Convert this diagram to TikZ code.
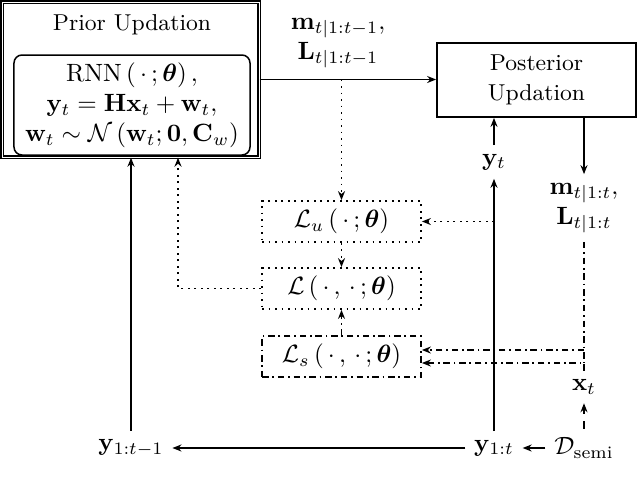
\documentclass[tikz,border=0pt]{standalone}
\usepackage{amsmath}
\usetikzlibrary{arrows.meta}

\tikzset{
	conn/.style={-{Stealth[length=3.6pt,width=2.8pt]}, line width=0.7pt},
	dots/.style={line width=0.7pt, dash pattern=on 0.7pt off 1.9pt},
	dashdots/.style={line width=0.7pt, dash pattern=on 2.6pt off 1.5pt on 0.7pt off 1.5pt},
	lossbox/.style={draw, minimum width=63.6pt, minimum height=16.4pt, inner sep=0pt},
	blocktext/.style={font=\fontsize{9.2}{12}\selectfont, align=center},
}

\begin{document}
\begin{tikzpicture}[x=0.4pt, y=-0.4pt]
		\useasboundingbox (0,0) rectangle (640,487);
		% the two update blocks
		\node[draw, double, double distance=0.35pt, line width=0.55pt, minimum width=102.8pt, minimum height=62pt] (prior) at (130.5,79.5) {};
		\node[blocktext] (priortitle) at (132,25) {Prior Updation};
		\node[draw, rounded corners=3.2pt, line width=0.6pt, minimum width=94.4pt, minimum height=40pt, align=center, inner sep=1pt] (rnn) at (132,105)
			{$\mathrm{RNN}\left(\,\cdot\,;\boldsymbol{\theta}\right),$\\ $\mathbf{y}_t=\mathbf{H}\mathbf{x}_t+\mathbf{w}_t,$\\ $\mathbf{w}_t\sim\mathcal{N}\left(\mathbf{w}_t;\mathbf{0},\mathbf{C}_w\right)$};
		\node[draw, line width=0.7pt, minimum width=79.6pt, minimum height=29.6pt, blocktext] (post) at (536.5,80) {Posterior\\Updation};

		% losses
		\node[lossbox, dots] (Lu) at (341.5,221.5) {$\mathcal{L}_u\left(\,\cdot\,;\boldsymbol{\theta}\right)$};
		\node[lossbox, dots] (L) at (341.5,288.5) {$\mathcal{L}\left(\,\cdot\,,\,\cdot\,;\boldsymbol{\theta}\right)$};
		\node[lossbox, dashdots] (Ls) at (341.5,356.5) {$\mathcal{L}_s\left(\,\cdot\,,\,\cdot\,;\boldsymbol{\theta}\right)$};

		% signals
		\node[align=center] (mprior) at (338,43) {$\mathbf{m}_{t|1:t-1},$\\ $\mathbf{L}_{t|1:t-1}$};
		\node (yt) at (494,162) {$\mathbf{y}_t$};
		\node[align=center] (mpost) at (584,208) {$\mathbf{m}_{t|1:t},$\\ $\mathbf{L}_{t|1:t}$};
		\node (xt) at (584,387) {$\mathbf{x}_t$};
		\node (y1t) at (494,448) {$\mathbf{y}_{1:t}$};
		\node (y1tm1) at (131,448) {$\mathbf{y}_{1:t-1}$};
		\node (dsemi) at (584,448) {$\mathcal{D}_{\text{semi}}$};

		\coordinate (split) at (Lu.north |- prior.east);
		\coordinate (lsin1) at ([yshift=2.6pt]Ls.east);
		\coordinate (lsin2) at ([yshift=-2.6pt]Ls.east);

		% connectors
		\draw[conn] (prior.east) -- (prior.east -| post.west);
		\draw[conn, dots] (split) -- (Lu.north);
		\draw[conn, dots] (Lu.south) -- (L.north);
		\draw[conn, dashdots] (Ls.north) -- (L.south);
		\draw[conn, dots] (L.west) -| ([xshift=19pt]prior.south);
		\draw[conn] (y1t) -- (y1tm1);
		\draw[conn] (y1tm1.north) -- (y1tm1.north |- prior.south);
		\draw[conn] (y1t.north) -- (yt.south);
		\draw[conn] (yt.north) -- (yt.north |- post.south);
		\draw[conn, dots] (Lu.east -| yt.south) -- (Lu.east);
		\draw[conn] (post.south -| mpost.north) -- (mpost.north);
		\draw[conn] (dsemi) -- (y1t);
		\draw[conn, dashed] (dsemi) -- (xt);
		\draw[dashdots] (mpost.south) -- (mpost.south |- lsin2);
		\draw[conn, dashdots] (mpost.south |- lsin1) -- (lsin1);
		\draw[conn, dashdots] (xt.north) |- (lsin2);
	\end{tikzpicture}
\end{document}
